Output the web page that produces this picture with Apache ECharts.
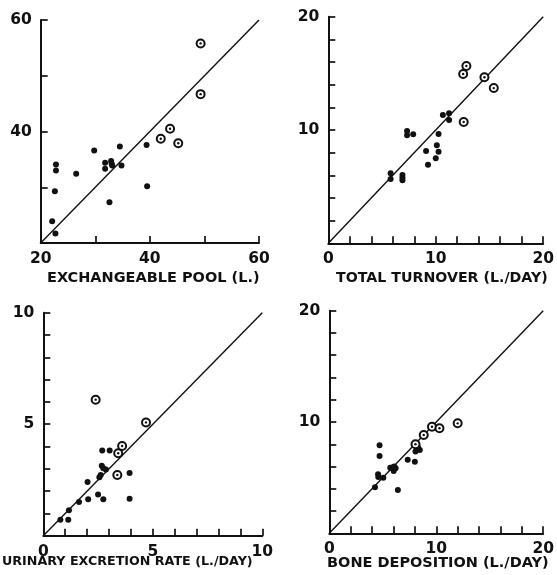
<!DOCTYPE html>
<html>
<head>
<meta charset="utf-8">
<script src="https://cdn.jsdelivr.net/npm/echarts@6/dist/echarts.min.js"></script>
<style>
html,body{margin:0;padding:0;background:#fff;}
#chart{width:557px;height:575px;}
</style>
</head>
<body>
<div id="chart"></div>
<script>
// Panel 1: exchangeable pool (L.)
var poolFilledX = [22.1, 22.7, 22.6, 22.8, 22.8, 26.5, 29.8, 31.8, 31.8, 32.9, 33.0, 33.1, 34.5, 34.8, 32.6, 39.4, 39.5];
var poolFilledY = [23.9, 21.7, 29.3, 33.0, 34.1, 32.4, 36.6, 34.4, 33.3, 34.7, 34.2, 33.9, 37.3, 33.9, 27.3, 37.6, 30.2];
var poolCircX = [42.0, 43.7, 45.2, 49.3, 49.3];
var poolCircY = [38.7, 40.5, 37.9, 55.8, 46.7];

// Panel 2: total turnover (L./day)
var turnFilledX = [5.8, 5.8, 6.9, 6.9, 6.9, 7.33, 7.33, 7.9, 9.1, 9.28, 10.0, 10.1, 10.26, 10.26, 10.66, 11.24, 11.24];
var turnFilledY = [6.18, 5.68, 6.03, 5.79, 5.56, 9.91, 9.53, 9.62, 8.15, 6.94, 7.5, 8.65, 8.09, 9.65, 11.32, 11.47, 10.88];
var turnCircX = [12.55, 12.85, 12.6, 14.53, 15.4];
var turnCircY = [14.94, 15.65, 10.7, 14.65, 13.7];

// Panel 3: urinary excretion rate (L./day)
var urinFilledX = [0.78, 1.14, 1.17, 1.63, 2.02, 2.05, 2.5, 2.74, 2.56, 2.62, 2.67, 2.74, 2.86, 2.69, 3.03, 3.94, 3.94];
var urinFilledY = [0.72, 0.72, 1.14, 1.51, 2.41, 1.63, 1.85, 1.63, 2.62, 2.72, 3.14, 3.02, 2.97, 3.82, 3.82, 2.81, 1.66];
var urinCircX = [2.39, 3.38, 3.42, 3.6, 4.69];
var urinCircY = [6.1, 2.72, 3.7, 4.02, 5.08];

// Panel 4: bone deposition (L./day)
var boneFilledX = [4.27, 4.56, 4.58, 4.7, 4.7, 5.05, 5.7, 5.86, 6.02, 6.2, 6.08, 6.41, 7.33, 8.0, 8.06, 8.31, 8.46, 8.24];
var boneFilledY = [4.13, 5.3, 5.06, 6.95, 7.9, 5.0, 5.9, 5.92, 5.6, 5.84, 6.0, 3.89, 6.6, 6.43, 7.35, 7.66, 7.49, 7.85];
var boneCircX = [8.06, 8.83, 9.6, 10.3, 12.0];
var boneCircY = [8.0, 8.83, 9.57, 9.44, 9.88];

// axis ranges, tick intervals and labelled ticks
var axisMin = [20, 0, 0, 0];
var axisMax = [60, 20, 10, 20];
var tickStep = [10, 2, 1, 2];
var labelStep = [20, 10, 5, 10];
var axisNames = ['EXCHANGEABLE POOL (L.)', 'TOTAL TURNOVER (L./DAY)', 'URINARY EXCRETION RATE (L./DAY)', 'BONE DEPOSITION (L./DAY)'];

var panels = [
  [poolFilledX, poolFilledY, poolCircX, poolCircY],
  [turnFilledX, turnFilledY, turnCircX, turnCircY],
  [urinFilledX, urinFilledY, urinCircX, urinCircY],
  [boneFilledX, boneFilledY, boneCircX, boneCircY]
];

var gridBoxes = [
  {left: 40.7, top: 20, width: 218.3, height: 223},
  {left: 328.3, top: 16.7, width: 218.4, height: 226.6},
  {left: 43.3, top: 312.7, width: 219, height: 223},
  {left: 329.3, top: 310.7, width: 218.4, height: 222.6}
];
var nameBoxes = [
  {left: 47, top: 271, size: 14.5},
  {left: 336, top: 271, size: 14.2},
  {left: 2, top: 555.5, size: 12.7},
  {left: 327, top: 555.5, size: 14.5}
];

function zip(xs, ys) {
  var out = [];
  for (var i = 0; i < xs.length; i++) out.push([xs[i], ys[i]]);
  return out;
}

var INK = '#111';
var FONT = 'DejaVu Sans';

var grids = [], xAxes = [], yAxes = [], series = [], titles = [];
for (var p = 0; p < 4; p++) {
  grids.push(Object.assign({containLabel: false}, gridBoxes[p]));
  (function (p) {
    var common = {
      type: 'value',
      gridIndex: p,
      min: axisMin[p],
      max: axisMax[p],
      interval: tickStep[p],
      splitLine: {show: false},
      axisLine: {show: true, onZero: false, lineStyle: {color: INK, width: 2}},
      axisTick: {show: true, inside: true, length: 7, lineStyle: {color: INK, width: 1.7}},
      axisLabel: {
        color: INK, fontFamily: FONT, fontWeight: 'bold', fontSize: 15.5,
        showMinLabel: true, showMaxLabel: true
      }
    };
    var xa = JSON.parse(JSON.stringify(common));
    xa.axisLabel.margin = 8;
    xa.axisLabel.formatter = function (v) {
      return (Math.round(v - axisMin[p]) % labelStep[p] === 0) ? String(v) : '';
    };
    var ya = JSON.parse(JSON.stringify(common));
    ya.axisLabel.margin = 9;
    ya.axisLabel.formatter = function (v) {
      if (v === axisMin[p]) return '';
      return (Math.round(v - axisMin[p]) % labelStep[p] === 0) ? String(v) : '';
    };
    xAxes.push(xa);
    yAxes.push(ya);
  })(p);

  var d = panels[p];
  series.push({
    type: 'line', xAxisIndex: p, yAxisIndex: p, silent: true,
    data: [[axisMin[p], axisMin[p]], [axisMax[p], axisMax[p]]],
    symbol: 'none', lineStyle: {color: INK, width: 1.4}, z: 1
  });
  series.push({
    type: 'scatter', xAxisIndex: p, yAxisIndex: p, silent: true,
    data: zip(d[0], d[1]), symbol: 'circle', symbolSize: 6,
    itemStyle: {color: INK, opacity: 1}, z: 3
  });
  series.push({
    type: 'scatter', xAxisIndex: p, yAxisIndex: p, silent: true,
    data: zip(d[2], d[3]), symbol: 'circle', symbolSize: 8,
    itemStyle: {color: '#fff', borderColor: INK, borderWidth: 2, opacity: 1}, z: 4
  });
  series.push({
    type: 'scatter', xAxisIndex: p, yAxisIndex: p, silent: true,
    data: zip(d[2], d[3]), symbol: 'circle', symbolSize: 2.4,
    itemStyle: {color: INK, opacity: 1}, z: 5
  });
  titles.push({
    text: axisNames[p], left: nameBoxes[p].left, top: nameBoxes[p].top, padding: 0,
    textStyle: {color: INK, fontFamily: FONT, fontWeight: 'bold', fontSize: nameBoxes[p].size}
  });
}

var chart = echarts.init(document.getElementById('chart'), null, {renderer: 'canvas'});
chart.setOption({
  backgroundColor: '#fff',
  animation: false,
  title: titles,
  grid: grids,
  xAxis: xAxes,
  yAxis: yAxes,
  series: series
});
</script>
</body>
</html>
